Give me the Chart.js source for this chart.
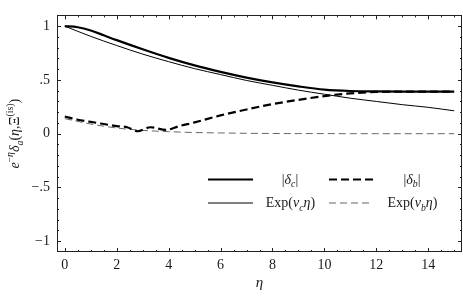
<!DOCTYPE html>
<html>
<head>
<meta charset="utf-8">
<script src="https://cdn.jsdelivr.net/npm/chart.js@4.4.1/dist/chart.umd.min.js"></script>
<style>
  html, body { margin: 0; padding: 0; background: #fff; }
  #wrap { width: 463px; height: 298px; }
</style>
</head>
<body>
<div id="wrap"><canvas id="chart"></canvas></div>
<script>
// values
const etaC = [0, 0.5, 1, 1.5, 2, 3, 4, 5, 6, 7, 8, 9, 10, 11, 12, 13, 14, 15];
const deltaC = [1.0, 0.99, 0.96, 0.915, 0.87, 0.785, 0.705, 0.635, 0.575, 0.522, 0.477, 0.44, 0.41, 0.397, 0.393, 0.392, 0.392, 0.392];

const etaB = [0, 0.5, 1, 1.5, 2, 2.4, 2.8, 3.3, 3.9, 4.4, 5, 6, 7, 8, 9, 10, 11, 12, 13, 14, 15];
const deltaB = [0.16, 0.13, 0.11, 0.09, 0.07, 0.06, 0.023, 0.06, 0.035, 0.07, 0.105, 0.17, 0.225, 0.275, 0.315, 0.35, 0.375, 0.388, 0.391, 0.392, 0.392];

const etaExp = [0, 1, 2, 3, 4, 5, 6, 7, 8, 9, 10, 11, 12, 13, 14, 15];
const expC = [1.0, 0.905, 0.82, 0.74, 0.67, 0.605, 0.55, 0.495, 0.45, 0.405, 0.367, 0.33, 0.30, 0.27, 0.245, 0.213];
const expB = [0.14, 0.09, 0.053, 0.031, 0.019, 0.011, 0.007, 0.004, 0.002, 0.001, 0.001, 0, 0, 0, 0, 0];

const xTicks = [0, 2, 4, 6, 8, 10, 12, 14];
const yTicks = [-1, -0.5, 0, 0.5, 1];
const yTickLabels = ['\u22121', '\u2212.5', '0', '.5', '1'];

const SERIF = "'Liberation Serif', 'Times New Roman', Times, serif";
const INK = '#1a1a1a';

function pts(xs, ys) {
    return xs.map((x, i) => ({ x: x, y: ys[i] }));
}

// draws text made of pieces: {t, it, sub, sup}
function richWidth(ctx, parts, size) {
    let w = 0;
    parts.forEach(p => {
        const s = (p.sub || p.sup) ? size * 0.7 : size;
        ctx.font = (p.it ? 'italic ' : '') + s + 'px ' + SERIF;
        w += ctx.measureText(p.t).width;
    });
    return w;
}

function drawRich(ctx, x, y, parts, size) {
    ctx.textBaseline = 'alphabetic';
    ctx.textAlign = 'left';
    parts.forEach(p => {
        const s = (p.sub || p.sup) ? size * 0.7 : size;
        ctx.font = (p.it ? 'italic ' : '') + s + 'px ' + SERIF;
        let dy = 0;
        if (p.sub) dy = size * 0.25;
        if (p.sup) dy = -size * 0.4;
        ctx.fillText(p.t, x, y + dy);
        x += ctx.measureText(p.t).width;
    });
}

const frameAndText = {
    id: 'frameAndText',
    afterDatasetsDraw(chart) {
        const ctx = chart.ctx;
        const a = chart.chartArea;
        const xs = chart.scales.x;
        const ys = chart.scales.y;
        ctx.save();

        // frame
        ctx.strokeStyle = '#222';
        ctx.lineWidth = 1;
        ctx.strokeRect(Math.round(a.left) + 0.5, Math.round(a.top) + 0.5,
            Math.round(a.right - a.left) - 1, Math.round(a.bottom - a.top) - 1);

        // inward ticks, major + minor
        ctx.beginPath();
        for (let v = 0; v <= 15.001; v += 0.5) {
            const px = Math.round(xs.getPixelForValue(v)) + 0.5;
            const len = (Math.abs(v / 2 - Math.round(v / 2)) < 1e-6) ? 4 : 2;
            ctx.moveTo(px, a.bottom); ctx.lineTo(px, a.bottom - len);
            ctx.moveTo(px, a.top); ctx.lineTo(px, a.top + len);
        }
        for (let i = -10; i <= 10; i++) {
            const v = i / 10;
            const py = Math.round(ys.getPixelForValue(v)) + 0.5;
            const len = (i % 5 === 0) ? 4 : 2;
            ctx.moveTo(a.left, py); ctx.lineTo(a.left + len, py);
            ctx.moveTo(a.right, py); ctx.lineTo(a.right - len, py);
        }
        ctx.stroke();

        ctx.fillStyle = INK;

        // x title
        ctx.font = 'italic 15px ' + SERIF;
        ctx.textAlign = 'center';
        ctx.textBaseline = 'alphabetic';
        ctx.fillText('\u03b7', (a.left + a.right) / 2, 287);

        // y title
        const yTitle = [
            { t: 'e', it: true },
            { t: '\u2212', sup: true }, { t: '\u03b7', it: true, sup: true },
            { t: '\u03b4', it: true }, { t: 'a', it: true, sub: true },
            { t: '(' }, { t: '\u03b7', it: true }, { t: ',\u039e' },
            { t: '(is)', sup: true }, { t: ')' }
        ];
        const tw = richWidth(ctx, yTitle, 14);
        ctx.save();
        ctx.translate(19, (a.top + a.bottom) / 2);
        ctx.rotate(-Math.PI / 2);
        drawRich(ctx, -tw / 2, 0, yTitle, 14);
        ctx.restore();

        // legend
        const rows = [179.5, 203];
        const samples = [
            { x0: 208, x1: 253, y: rows[0], w: 2.2, dash: [], color: '#000' },
            { x0: 329, x1: 373, y: rows[0], w: 2.2, dash: [8, 4], color: '#000' },
            { x0: 208, x1: 253, y: rows[1], w: 1, dash: [], color: '#000' },
            { x0: 329, x1: 373, y: rows[1], w: 1, dash: [7, 4], color: '#666' }
        ];
        samples.forEach(s => {
            ctx.beginPath();
            ctx.setLineDash(s.dash);
            ctx.lineWidth = s.w;
            ctx.strokeStyle = s.color;
            ctx.moveTo(s.x0, s.y);
            ctx.lineTo(s.x1, s.y);
            ctx.stroke();
        });
        ctx.setLineDash([]);
        const labels = [
            { cx: 290, y: rows[0], parts: [{ t: '|' }, { t: '\u03b4', it: true }, { t: 'c', it: true, sub: true }, { t: '|' }] },
            { cx: 412, y: rows[0], parts: [{ t: '|' }, { t: '\u03b4', it: true }, { t: 'b', it: true, sub: true }, { t: '|' }] },
            { cx: 290.5, y: rows[1], parts: [{ t: 'Exp(' }, { t: '\u03bd', it: true }, { t: 'c', it: true, sub: true }, { t: '\u03b7', it: true }, { t: ')' }] },
            { cx: 412.5, y: rows[1], parts: [{ t: 'Exp(' }, { t: '\u03bd', it: true }, { t: 'b', it: true, sub: true }, { t: '\u03b7', it: true }, { t: ')' }] }
        ];
        labels.forEach(l => {
            const w = richWidth(ctx, l.parts, 14);
            drawRich(ctx, l.cx - w / 2, l.y + 4, l.parts, 14);
        });

        ctx.restore();
    }
};

new Chart(document.getElementById('chart'), {
    type: 'line',
    data: {
        datasets: [
            {
                label: '|δc|',
                data: pts(etaC, deltaC),
                borderColor: '#000',
                borderWidth: 2.2,
                pointRadius: 0,
                cubicInterpolationMode: 'monotone'
            },
            {
                label: '|δb|',
                data: pts(etaB, deltaB),
                borderColor: '#000',
                borderWidth: 2.2,
                borderDash: [8, 4],
                pointRadius: 0,
                cubicInterpolationMode: 'monotone'
            },
            {
                label: 'Exp(νc η)',
                data: pts(etaExp, expC),
                borderColor: '#000',
                borderWidth: 1,
                pointRadius: 0,
                cubicInterpolationMode: 'monotone'
            },
            {
                label: 'Exp(νb η)',
                data: pts(etaExp, expB),
                borderColor: '#666',
                borderWidth: 1,
                borderDash: [7, 4],
                pointRadius: 0,
                cubicInterpolationMode: 'monotone'
            }
        ]
    },
    options: {
        responsive: true,
        maintainAspectRatio: false,
        animation: false,
        layout: { padding: { top: 1, right: 1, left: 0, bottom: 0 } },
        plugins: {
            legend: { display: false },
            tooltip: { enabled: false }
        },
        scales: {
            x: {
                type: 'linear',
                min: -0.3,
                max: 15.3,
                grid: { display: false, drawTicks: false },
                border: { display: false },
                afterBuildTicks: s => { s.ticks = xTicks.map(v => ({ value: v })); },
                afterFit: s => { s.height = 46; },
                ticks: {
                    padding: 5,
                    maxRotation: 0,
                    color: INK,
                    font: { family: SERIF, size: 14 },
                    callback: v => String(v)
                }
            },
            y: {
                type: 'linear',
                min: -1.1,
                max: 1.1,
                grid: { display: false, drawTicks: false },
                border: { display: false },
                afterBuildTicks: s => { s.ticks = yTicks.map(v => ({ value: v })); },
                afterFit: s => { s.width = 57; },
                ticks: {
                    padding: 7,
                    color: INK,
                    font: { family: SERIF, size: 14 },
                    callback: v => yTickLabels[yTicks.indexOf(v)]
                }
            }
        }
    },
    plugins: [frameAndText]
});
</script>
</body>
</html>
